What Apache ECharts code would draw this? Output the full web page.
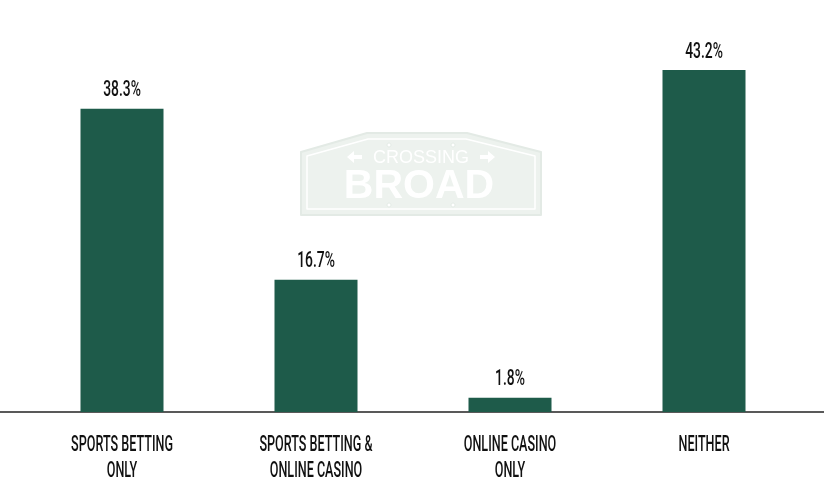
<!DOCTYPE html>
<html><head><meta charset="utf-8">
<script src="https://cdn.jsdelivr.net/npm/echarts@6/dist/echarts.min.js"></script>
<style>html,body{margin:0;padding:0;background:#fff}#c{width:824px;height:500px}</style>
</head><body><div id="c"></div>
<script>
const categories = ['SPORTS BETTING\nONLY', 'SPORTS BETTING &\nONLINE CASINO', 'ONLINE CASINO\nONLY', 'NEITHER'];
const values = [38.3, 16.7, 1.8, 43.2];
const labelSuffix = '%';

const FONT = "500 21px Roboto, 'Noto Sans', sans-serif";
const chart = echarts.init(document.getElementById('c'), null, {renderer: 'canvas'});
chart.setOption({
  animation: false,
  backgroundColor: '#ffffff',
  grid: {left: 25, right: 23, top: 70, bottom: 88},
  xAxis: {
    type: 'category', data: categories,
    axisLine: {show: false}, axisTick: {show: false}, splitLine: {show: false},
    axisLabel: {show: false}
  },
  yAxis: {type: 'value', min: 0, max: 43.2, show: false, splitLine: {show: false}},
  series: [
    {type: 'bar', data: values, barWidth: 83, z: 3, itemStyle: {color: '#1e5b4a'}},
    {
      type: 'custom', z: 4, silent: true,
      data: values.map((v, i) => [i, v]),
      renderItem: (params, api) => {
        const p = api.coord([api.value(0), api.value(1)]);
        return {type: 'text', x: p[0], y: p[1] - 18, scaleX: 0.66, scaleY: 1.08,
          style: {text: values[params.dataIndex] + labelSuffix, x: 0, y: 0, align: 'center', verticalAlign: 'middle',
            fill: '#111', font: FONT}};
      }
    },
    {
      type: 'custom', z: 4, silent: true,
      data: categories.map((c, i) => [i, 0]),
      renderItem: (params, api) => {
        const p = api.coord([api.value(0), 0]);
        return {type: 'text', x: p[0], y: p[1] + 20, scaleX: 0.6, scaleY: 1.08,
          style: {text: categories[params.dataIndex], x: 0, y: 0, align: 'center', verticalAlign: 'top',
            lineHeight: 24, fill: '#111', font: FONT}};
      }
    }
  ]
});

const y0 = chart.convertToPixel({yAxisIndex: 0}, 0);
const W = chart.getWidth();
const wm = '#edf2ee';
chart.setOption({
  graphic: [
    {type: 'line', z: 1, shape: {x1: 0, y1: y0, x2: W, y2: y0}, style: {stroke: '#222', lineWidth: 1.5}},
    {type: 'group', z: 0, children: [
      {type: 'polygon', shape: {points: [[301,152],[367,133],[467,133],[541,152],[541,215],[301,215]]},
        style: {fill: wm, stroke: '#e3eae5', lineWidth: 2, lineJoin: 'round'}},
      {type: 'polygon', shape: {points: [[307,156],[368,139],[466,139],[535,156],[535,209],[307,209]]},
        style: {fill: 'none', stroke: '#ffffff', lineWidth: 1.5, lineJoin: 'round'}},
      {type: 'text', style: {text: 'CROSSING', x: 421, y: 158, align: 'center', verticalAlign: 'middle',
        fill: '#ffffff', font: "18px 'Liberation Sans', Arial, sans-serif"}},
      {type: 'text', style: {text: 'BROAD', x: 419, y: 187, align: 'center', verticalAlign: 'middle',
        fill: '#ffffff', font: "bold 41px 'Liberation Sans', Arial, sans-serif"}},
      {type: 'polygon', shape: {points: [[347,157],[354,151],[354,155],[362,155],[362,159],[354,159],[354,163]]}, style: {fill: '#ffffff'}},
      {type: 'polygon', shape: {points: [[495,157],[488,151],[488,155],[480,155],[480,159],[488,159],[488,163]]}, style: {fill: '#ffffff'}},
      {type: 'circle', shape: {cx: 389, cy: 145, r: 2}, style: {fill: '#ffffff', stroke: '#e0e8e2', lineWidth: 0.8}},
      {type: 'circle', shape: {cx: 453, cy: 145, r: 2}, style: {fill: '#ffffff', stroke: '#e0e8e2', lineWidth: 0.8}},
      {type: 'circle', shape: {cx: 389, cy: 205, r: 2}, style: {fill: '#ffffff', stroke: '#e0e8e2', lineWidth: 0.8}},
      {type: 'circle', shape: {cx: 453, cy: 205, r: 2}, style: {fill: '#ffffff', stroke: '#e0e8e2', lineWidth: 0.8}}
    ]}
  ]
});
</script>
</body></html>
